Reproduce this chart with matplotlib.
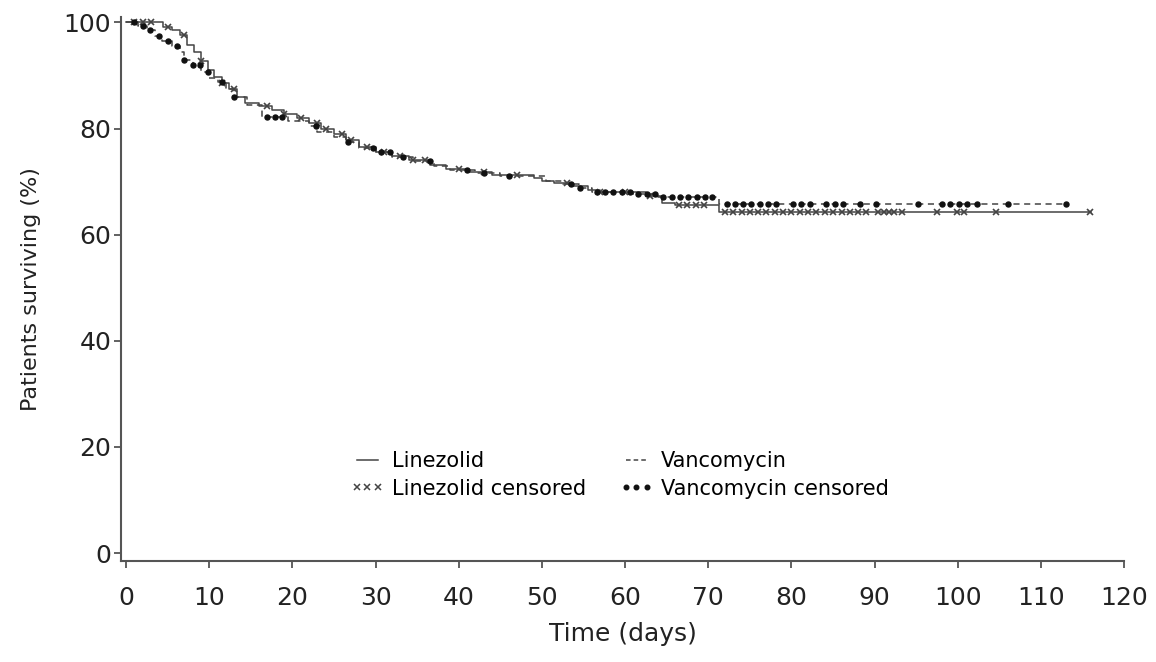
import numpy as np
import matplotlib
matplotlib.use("Agg")
import matplotlib.pyplot as plt
from matplotlib.lines import Line2D

plt.rcParams['font.family'] = ['DejaVu Sans']

# Kaplan-Meier step data (time in days, survival in %)
lin_t = [0, 4.5, 5.5, 6.5, 7.3, 8.2, 9.0, 9.8, 10.6, 11.5, 12.4, 13.3, 14.3, 16.0, 17.5,
         19.0, 20.5, 22.0, 23.5, 25.0, 26.5, 28.0, 30.0, 32.0, 34.0, 36.5, 38.5, 41.0,
         44.0, 49.0, 50.0, 51.5, 53.5, 55.5, 57.0, 62.5, 64.5, 66.0, 71.3]
lin_s = [100, 99.2, 98.5, 97.6, 95.8, 94.5, 92.8, 91.0, 89.8, 88.5, 87.5, 86.0, 84.8, 84.2, 83.5,
         82.8, 82.0, 81.0, 80.0, 79.0, 77.8, 76.5, 75.6, 74.8, 74.0, 73.1, 72.4, 71.8,
         71.2, 70.6, 70.1, 69.8, 69.2, 68.5, 68.0, 67.2, 66.0, 65.5, 64.3]
lin_end = 116

van_t = [0, 1.5, 2.5, 3.5, 4.3, 5.5, 6.5, 7.0, 8.0, 9.0, 10.0, 11.0, 12.0, 13.0, 14.5,
         16.3, 19.5, 22.0, 23.0, 25.0, 26.5, 28.0, 30.0, 32.0, 34.5, 37.0, 39.0, 42.0,
         45.0, 50.5, 52.5, 54.5, 56.0, 61.0, 64.0, 71.3]
van_s = [100, 99.3, 98.5, 97.5, 96.5, 95.6, 94.5, 93.0, 91.9, 90.6, 89.6, 88.7, 87.5, 86.0, 84.5,
         82.2, 81.5, 80.5, 79.3, 78.5, 77.5, 76.3, 75.5, 74.6, 73.8, 73.0, 72.2, 71.6,
         71.0, 70.2, 69.6, 68.8, 68.0, 67.7, 67.1, 65.7]
van_end = 113

lin_cens = [1, 2, 3, 5, 7, 9, 11.5, 13, 17, 19, 21, 23, 24, 26, 27, 29, 31, 33, 34.5, 36,
            40, 43, 47, 53, 57, 60, 63, 66.5, 67.5, 68.5, 69.5,
            72, 73, 74, 75, 76, 77, 78, 79, 80, 81, 82, 83, 84, 85,
            86.1, 87, 88, 89, 90.4, 91.1, 91.7, 92.3, 93.3, 97.5, 99.9, 100.8, 104.6, 115.9]
van_cens = [1, 2.1, 2.9, 4.0, 5.1, 6.1, 7.0, 8.0, 8.9, 9.9, 11.5, 13, 16.9, 17.9, 18.7,
            22.8, 26.7, 29.7, 30.7, 31.7, 33.3, 36.6, 41, 43, 46, 53.5,
            54.6, 56.6, 57.6, 58.6, 59.6, 60.6, 61.6, 62.6, 63.6, 64.6, 65.6, 66.6, 67.6,
            68.6, 69.6, 70.5, 72.2, 73.2, 74.2, 75.2, 76.2, 77.2, 78.2, 80.2, 81.2, 82.2,
            84.2, 85.2, 86.2, 88.2, 90.2, 95.2, 98.1, 99.1, 100.2, 101.1, 102.3, 106.0, 113.0]

x_ticks = list(range(0, 121, 10))
y_ticks = [0, 20, 40, 60, 80, 100]


def surv_at(ts, ss, t):
    idx = np.searchsorted(ts, t, side='right') - 1
    return np.asarray(ss)[idx]


fig = plt.figure(figsize=(11.56, 6.62), dpi=100)
ax = fig.add_axes([0.1047, 0.1526, 0.8677, 0.8215])

axis_col = '#555555'
curve_col = '#444444'

ax.step(lin_t + [lin_end], lin_s + [lin_s[-1]], where='post', color=curve_col, lw=1.1)
ax.step(van_t + [van_end], van_s + [van_s[-1]], where='post', color=curve_col, lw=1.1,
        ls=(0, (4, 3)))

ax.plot(lin_cens, surv_at(lin_t, lin_s, lin_cens), ls='none', marker='x', ms=4.5,
        mew=1.2, color='#444444')
ax.plot(van_cens, surv_at(van_t, van_s, van_cens), ls='none', marker='o', ms=3.6,
        color='#111111')

ax.set_xlim(-0.6, 120)
ax.set_ylim(-1.5, 101)
ax.set_xticks(x_ticks)
ax.set_yticks(y_ticks)

for s in ['top', 'right']:
    ax.spines[s].set_visible(False)
for s in ['left', 'bottom']:
    ax.spines[s].set_color(axis_col)
    ax.spines[s].set_linewidth(1.5)

ax.tick_params(axis='both', colors=axis_col, width=1.3, length=5, labelsize=18,
               labelcolor='#222222')
ax.tick_params(axis='x', pad=13)
ax.tick_params(axis='y', pad=2)
ax.set_xlabel('Time (days)', fontsize=18, color='#222222', labelpad=9)
ax.set_ylabel('Patients surviving (%)', fontsize=16, color='#222222', labelpad=16)

handles = [Line2D([], [], color=curve_col, lw=1.1),
           Line2D([], [], color='#444444', ls='none', marker='x', ms=4, mew=1.1),
           Line2D([], [], color=curve_col, lw=1.1, ls=(0, (3, 2))),
           Line2D([], [], color='#111111', ls='none', marker='o', ms=3.3)]
labels = ['Linezolid', 'Linezolid censored', 'Vancomycin', 'Vancomycin censored']
ax.legend(handles, labels, ncol=2, loc='upper left', bbox_to_anchor=(0.21, 0.236),
          frameon=False, fontsize=15, numpoints=3, handlelength=1.6,
          handletextpad=0.4, columnspacing=1.6, labelspacing=0.35)

fig.savefig('out.png', dpi=100)
